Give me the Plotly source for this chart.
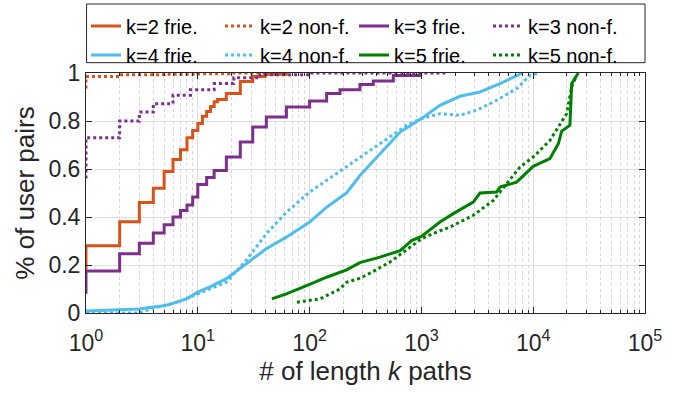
import plotly.graph_objects as go

# ---- data ----
k2f_x = [1, 1, 2, 3, 4, 5, 6, 7, 8, 9, 10, 11, 12, 13, 14, 15, 18, 24, 31, 40, 62]
k2f_y = [0.18, 0.28, 0.38, 0.46, 0.52, 0.59, 0.64, 0.68, 0.73, 0.76, 0.79, 0.82, 0.84, 0.86, 0.88, 0.89, 0.915, 0.965, 0.985, 0.995, 1.0]

k2n_x = [1, 1, 2, 5, 10, 19, 40, 62]
k2n_y = [0.935, 0.985, 0.993, 0.995, 0.997, 1.0, 1.0, 1.0]

k3f_x = [1, 1, 2, 3, 4, 5, 6, 7, 8, 9, 10, 12, 14, 18, 24, 31, 41, 62, 100, 142, 187, 282, 371, 561, 970]
k3f_y = [0.08, 0.175, 0.247, 0.291, 0.333, 0.368, 0.40, 0.427, 0.45, 0.483, 0.535, 0.565, 0.594, 0.65, 0.712, 0.775, 0.817, 0.858, 0.883, 0.915, 0.93, 0.952, 0.967, 0.99, 1.0]

k3n_x = [1, 1, 2, 3, 4, 6, 8.6, 14, 21, 36, 100, 1683]
k3n_y = [0.56, 0.73, 0.80, 0.837, 0.872, 0.907, 0.93, 0.956, 0.98, 0.993, 1.0, 1.0]

k4f_x = [1, 2, 3, 4, 5, 6, 7, 8, 10, 13, 18, 27, 41, 62, 100, 142, 214, 282, 426, 646, 1000, 1466, 2214, 3342, 5045, 7620, 8000]
k4f_y = [0.008, 0.012, 0.017, 0.025, 0.03, 0.04, 0.05, 0.06, 0.087, 0.11, 0.143, 0.205, 0.268, 0.316, 0.379, 0.441, 0.50, 0.573, 0.664, 0.754, 0.81, 0.865, 0.903, 0.921, 0.956, 0.997, 1.0]

k4n_x = [1, 3, 4, 6, 8, 10, 18, 27, 41, 62, 100, 142, 214, 282, 426, 738, 1000, 1466, 2214, 3120, 4710, 7110, 9350, 11500]
k4n_y = [0.0, 0.0, 0.02, 0.04, 0.06, 0.08, 0.128, 0.219, 0.33, 0.42, 0.504, 0.553, 0.608, 0.65, 0.706, 0.782, 0.81, 0.83, 0.824, 0.845, 0.886, 0.935, 0.99, 1.0]

k5f_x = [46, 62, 100, 142, 214, 282, 426, 646, 817, 1000, 1466, 1928, 2910, 3342, 4710, 5045, 7110, 10000, 14100, 16800, 18000, 21300, 22100, 25300]
k5f_y = [0.059, 0.08, 0.119, 0.149, 0.18, 0.21, 0.233, 0.26, 0.302, 0.319, 0.379, 0.414, 0.462, 0.50, 0.504, 0.525, 0.545, 0.611, 0.643, 0.706, 0.758, 0.782, 0.956, 1.0]

k5n_x = [77, 124, 187, 214, 282, 347, 522, 792, 1000, 1370, 1802, 2910, 4400, 5790, 7620, 10000, 14100, 19900, 22100, 24500]
k5n_y = [0.045, 0.059, 0.10, 0.128, 0.145, 0.166, 0.212, 0.274, 0.309, 0.337, 0.358, 0.407, 0.469, 0.539, 0.608, 0.65, 0.719, 0.83, 0.942, 0.99]

x_tickvals = [1, 10, 100, 1000, 10000, 100000]
x_ticktext = ["10<sup>0</sup>", "10<sup>1</sup>", "10<sup>2</sup>", "10<sup>3</sup>", "10<sup>4</sup>", "10<sup>5</sup>"]
y_tickvals = [0, 0.2, 0.4, 0.6, 0.8, 1]
y_ticktext = ["0", "0.2", "0.4", "0.6", "0.8", "1"]

ORANGE = "#D95319"
PURPLE = "#7E2F8E"
BLUE = "#4DBEEE"
GREEN = "#008000"

series = [
    ("k=2 frie.", k2f_x, k2f_y, ORANGE, "solid", "hv"),
    ("k=2 non-f.", k2n_x, k2n_y, ORANGE, "dot", "hv"),
    ("k=3 frie.", k3f_x, k3f_y, PURPLE, "solid", "hv"),
    ("k=3 non-f.", k3n_x, k3n_y, PURPLE, "dot", "hv"),
    ("k=4 frie.", k4f_x, k4f_y, BLUE, "solid", "linear"),
    ("k=4 non-f.", k4n_x, k4n_y, BLUE, "dot", "linear"),
    ("k=5 frie.", k5f_x, k5f_y, GREEN, "solid", "linear"),
    ("k=5 non-f.", k5n_x, k5n_y, GREEN, "dot", "linear"),
]

fig = go.Figure()
for name, xs, ys, col, dash, shape in series:
    fig.add_trace(go.Scatter(
        x=xs, y=ys, mode="lines", name=name,
        line=dict(color=col, width=3, dash=dash, shape=shape),
    ))

FONT = "Liberation Sans, Arial, sans-serif"
AX = "#262626"

fig.update_layout(
    width=688, height=394,
    margin=dict(l=86, r=43, t=73, b=81, autoexpand=False),
    paper_bgcolor="white", plot_bgcolor="white",
    font=dict(family=FONT, size=23, color=AX),
    hovermode=False,
    showlegend=True,
    legend=dict(
        orientation="h",
        x=0.0, xanchor="left",
        y=1.277, yanchor="top",
        borderwidth=0,
        bgcolor="rgba(0,0,0,0)",
        font=dict(size=20, color="#000000"),
        itemwidth=30,
        entrywidth=89, entrywidthmode="pixels",
        tracegroupgap=0,
    ),
    # frame drawn around the legend (paper coordinates)
    shapes=[dict(type="rect", xref="paper", yref="paper",
                 x0=0.001, x1=1.0, y0=1.043, y1=1.2875,
                 line=dict(color=AX, width=1), fillcolor="rgba(0,0,0,0)")],
)

fig.update_xaxes(
    type="log", range=[0, 5],
    tickvals=x_tickvals, ticktext=x_ticktext,
    ticks="inside", ticklen=6, tickcolor=AX,
    ticklabelstandoff=9,
    showline=True, linecolor=AX, linewidth=1, mirror="ticks",
    showgrid=True, gridcolor="#DFDFDF", gridwidth=1,
    minor=dict(ticks="inside", ticklen=3, tickcolor=AX, dtick="D1",
               showgrid=True, gridcolor="#D5D5D5", griddash="dot", gridwidth=1),
    zeroline=False,
    title=dict(text="# of length <i>k</i> paths", font=dict(size=26), standoff=3),
    tickfont=dict(size=23),
)
fig.update_yaxes(
    range=[0, 1],
    tickvals=y_tickvals, ticktext=y_ticktext,
    ticks="inside", ticklen=6, tickcolor=AX,
    showline=True, linecolor=AX, linewidth=1, mirror="ticks",
    showgrid=True, gridcolor="#DFDFDF", gridwidth=1,
    zeroline=False,
    title=dict(text="% of user pairs", font=dict(size=26), standoff=6),
    tickfont=dict(size=23),
)

fig.write_html(
    "out.html",
    config={"displayModeBar": False},
    post_script="document.body.style.margin='0';document.body.style.padding='0';",
)
